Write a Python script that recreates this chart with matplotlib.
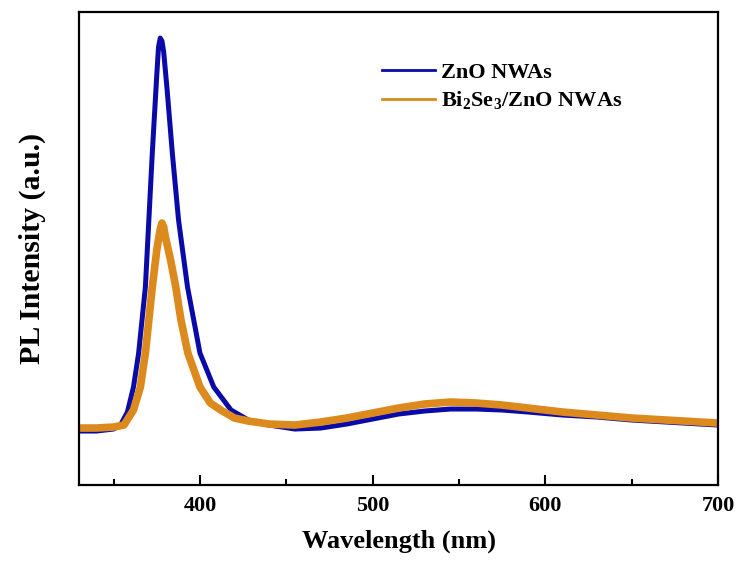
import numpy as np
import matplotlib
matplotlib.use('Agg')
import matplotlib.pyplot as plt
from matplotlib.ticker import MultipleLocator

plt.rcParams['font.family'] = 'Liberation Serif'
plt.rcParams['font.weight'] = 'bold'
plt.rcParams['mathtext.fontset'] = 'custom'
plt.rcParams['mathtext.rm'] = 'Liberation Serif:bold'
plt.rcParams['mathtext.bf'] = 'Liberation Serif:bold'

# PL spectra (intensity in a.u.)
wl_zno = [330, 340, 350, 354, 358, 361.5, 364.5, 368.4, 372.4, 375, 376, 377, 378, 379,
          381, 384, 387.6, 392.8, 400, 408, 418, 428, 440, 455, 470, 485, 500, 515,
          530, 545, 560, 575, 590, 610, 630, 650, 670, 690, 700]
pl_zno = [540, 540, 560, 600, 730, 980, 1320, 1980, 3320, 4100, 4380, 4470, 4440, 4330,
          3950, 3320, 2650, 1980, 1320, 980, 750, 650, 600, 560, 570, 610, 660, 710,
          740, 760, 760, 750, 730, 700, 680, 650, 630, 610, 600]

wl_bise = [330, 340, 350, 356, 361.5, 365.5, 368.4, 372.4, 375, 377, 378, 379, 380, 383,
           386, 389, 393, 400, 406, 412, 420, 428, 440, 455, 470, 485, 500, 515, 530,
           545, 560, 575, 590, 610, 630, 650, 670, 690, 700]
pl_bise = [570, 570, 580, 600, 750, 980, 1320, 1980, 2350, 2560, 2620, 2580, 2480, 2250,
           1980, 1650, 1320, 980, 820, 750, 670, 640, 610, 600, 630, 670, 720, 770, 810,
           830, 820, 800, 770, 730, 700, 670, 650, 630, 620]

fig = plt.figure(figsize=(7.39, 5.64), dpi=100)
ax = fig.add_axes([0.107, 0.140, 0.8646, 0.8387])

ax.plot(wl_zno, pl_zno, color='#0a0aa8', lw=3.6, label='ZnO NWAs')
ax.plot(wl_bise, pl_bise, color='#dc8a1e', lw=5.5, label='Bi$_2$Se$_3$/ZnO NWAs')

ax.set_xlim(330, 700)
ax.set_ylim(0, 4730)
ax.set_yticks([])
ax.xaxis.set_major_locator(MultipleLocator(100))
ax.xaxis.set_minor_locator(MultipleLocator(50))
ax.tick_params(axis='x', which='major', direction='in', length=7, width=1.5,
               labelsize=16, pad=8)
ax.tick_params(axis='x', which='minor', direction='in', length=4, width=1.5)
for s in ax.spines.values():
    s.set_linewidth(1.6)

ax.set_xlabel('Wavelength (nm)', fontsize=19, fontweight='bold', labelpad=10)
ax.set_ylabel('PL Intensity (a.u.)', fontsize=21.5, fontweight='bold', labelpad=24)

leg = ax.legend(loc='upper left', bbox_to_anchor=(0.443, 0.936), frameon=False,
                fontsize=16, handlelength=2.4, handletextpad=0.25, labelspacing=0.3)
for line in leg.get_lines():
    line.set_linewidth(2)

fig.savefig('out.png', dpi=100)
